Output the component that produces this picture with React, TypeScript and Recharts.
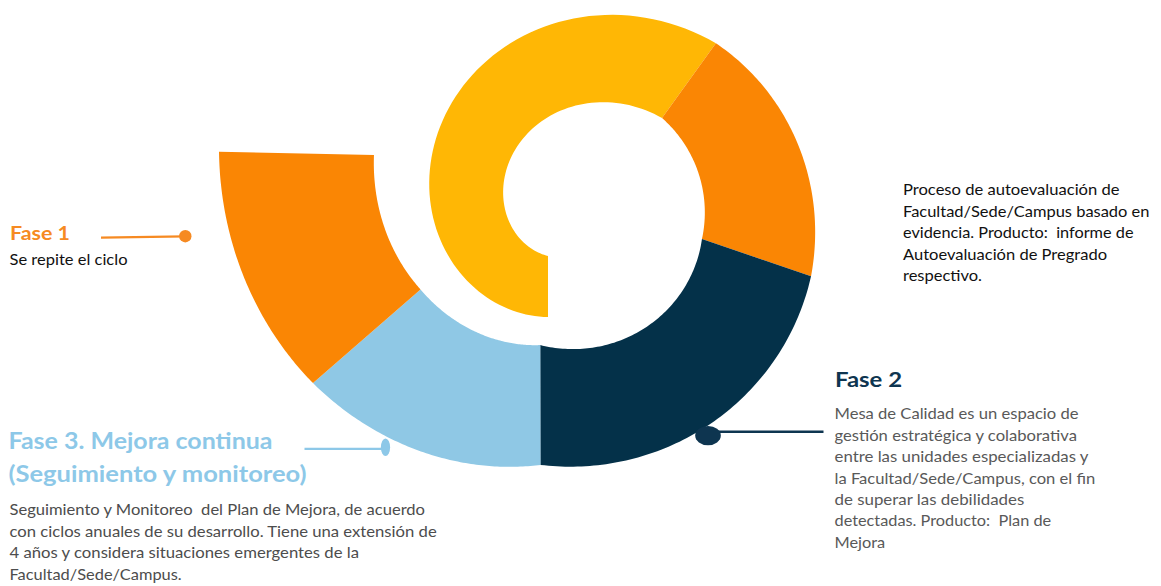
import React from "react";
import { PieChart, Pie, Cell } from "recharts";

const W = 1161;
const H = 586;

// ---- chart data: the spiral's segments and their angular extent (degrees) ----
const segmentNames = [
  "Autoevaluación",
  "Informe de Autoevaluación",
  "Fase 2 · Plan de Mejora",
  "Fase 3 · Mejora continua",
  "Fase 1 · Se repite el ciclo",
];
const segmentSpans = [191.6, 63.7, 90.0, 48.4, 41.7];
const segmentColors = ["#FFB705", "#FA8604", "#043149", "#8FC8E5", "#FA8604"];

// ---- text ----
const fase1Title = "Fase 1";
const fase1Lines = ["Se repite el ciclo"];
const fase3Title = ["Fase 3. Mejora continua", "(Seguimiento y monitoreo)"];
const fase3Lines = [
  "Seguimiento y Monitoreo  del Plan de Mejora, de acuerdo",
  "con ciclos anuales de su desarrollo. Tiene una extensión de",
  "4 años y considera situaciones emergentes de la",
  "Facultad/Sede/Campus.",
];
const autoevalLines = [
  "Proceso de autoevaluación de",
  "Facultad/Sede/Campus basado en",
  "evidencia. Producto:  informe de",
  "Autoevaluación de Pregrado",
  "respectivo.",
];
const fase2Title = "Fase 2";
const fase2Lines = [
  "Mesa de Calidad es un espacio de",
  "gestión estratégica y colaborativa",
  "entre las unidades especializadas y",
  "la Facultad/Sede/Campus, con el fin",
  "de superar las debilidades",
  "detectadas. Producto:  Plan de",
  "Mejora",
];

// ---- layout / style ----
const SPIRAL_CX = 580;
const SPIRAL_CY = 215;
const SPIRAL_START = 242.3;

// spiral growth per segment: radii at start/end of the segment, edge skew (deg)
const spiralGeometry = [
  { innerFrom: 52, innerTo: 127, outerFrom: 107, outerTo: 219, skewFrom: 20.6, skewTo: 1.9 },
  { innerFrom: 127, innerTo: 124.3, outerFrom: 219, outerTo: 239, skewFrom: 1.9, skewTo: -3.7 },
  { innerFrom: 124.3, innerTo: 136, outerFrom: 239, outerTo: 253, skewFrom: -3.7, skewTo: 8 },
  { innerFrom: 136, innerTo: 176, outerFrom: 253, outerTo: 315.5, skewFrom: 8, skewTo: 7.2 },
  { innerFrom: 176, innerTo: 214.6, outerFrom: 315.5, outerTo: 366.5, skewFrom: 7.2, skewTo: 6.3 },
];

const FONT = 'Lato, "Open Sans", "DejaVu Sans", sans-serif';

const RAD = Math.PI / 180;

function SpiralSector(props: any) {
  const { cx, cy, startAngle, endAngle, fill } = props;
  const name = props?.payload?.name ?? props?.name;
  const idx = segmentNames.indexOf(name);
  const g = spiralGeometry[idx < 0 ? 0 : idx];
  const o0 = startAngle + g.skewFrom / 2;
  const o1 = endAngle + g.skewTo / 2;
  const i0 = startAngle - g.skewFrom / 2;
  const i1 = endAngle - g.skewTo / 2;
  const steps = 90;
  const pt = (deg: number, r: number) =>
    `${(cx + r * Math.cos(deg * RAD)).toFixed(2)},${(cy - r * Math.sin(deg * RAD)).toFixed(2)}`;
  const parts: string[] = [];
  for (let k = 0; k <= steps; k++) {
    const t = k / steps;
    const a = o0 + (o1 - o0) * t;
    const r = g.outerFrom + (g.outerTo - g.outerFrom) * t;
    parts.push((k === 0 ? "M" : "L") + pt(a, r));
  }
  for (let k = steps; k >= 0; k--) {
    const t = k / steps;
    const a = i0 + (i1 - i0) * t;
    const r = g.innerFrom + (g.innerTo - g.innerFrom) * t;
    parts.push("L" + pt(a, r));
  }
  parts.push("Z");
  return <path d={parts.join(" ")} fill={fill} stroke="none" />;
}

const firstTurn = [{ name: segmentNames[0], value: segmentSpans[0] }];
const secondTurn = segmentNames.slice(1).map((name, i) => ({ name, value: segmentSpans[i + 1] }));
const secondTurnSpan = segmentSpans.slice(1).reduce((a, b) => a + b, 0);

type BlockProps = {
  x: number;
  y: number;
  dy: number;
  lines: string[];
  widths: number[];
  size: number;
  weight?: number;
  color: string;
};

function TextBlock({ x, y, dy, lines, widths, size, weight = 400, color }: BlockProps) {
  return (
    <g>
      {lines.map((line, i) => (
        <text
          key={i}
          x={x}
          y={y + i * dy}
          fontFamily={FONT}
          fontSize={size}
          fontWeight={weight}
          fill={color}
          textLength={widths[i]}
          lengthAdjust="spacingAndGlyphs"
          style={{ whiteSpace: "pre" }}
        >
          {line}
        </text>
      ))}
    </g>
  );
}

export default function App() {
  return (
    <div style={{ position: "absolute", left: 0, top: 0, width: W, height: H, background: "#fff" }}>
      <PieChart width={W} height={H} margin={{ top: 0, right: 0, bottom: 0, left: 0 }}>
        <Pie
          data={firstTurn}
          dataKey="value"
          nameKey="name"
          cx={SPIRAL_CX}
          cy={SPIRAL_CY}
          innerRadius={90}
          outerRadius={165}
          startAngle={SPIRAL_START}
          endAngle={SPIRAL_START - segmentSpans[0]}
          stroke="none"
          isAnimationActive={false}
          shape={SpiralSector}
        >
          <Cell fill={segmentColors[0]} />
        </Pie>
        <Pie
          data={secondTurn}
          dataKey="value"
          nameKey="name"
          cx={SPIRAL_CX}
          cy={SPIRAL_CY}
          innerRadius={150}
          outerRadius={280}
          startAngle={SPIRAL_START - segmentSpans[0]}
          endAngle={SPIRAL_START - segmentSpans[0] - secondTurnSpan}
          stroke="none"
          isAnimationActive={false}
          shape={SpiralSector}
        >
          {secondTurn.map((d, i) => (
            <Cell key={d.name} fill={segmentColors[i + 1]} />
          ))}
        </Pie>
      </PieChart>
      <svg
        width={W}
        height={H}
        style={{ position: "absolute", left: 0, top: 0, pointerEvents: "none" }}
      >
        {/* Fase 1 */}
        <TextBlock x={10} y={240} dy={0} lines={[fase1Title]} widths={[60]} size={19} weight={700} color="#F68A22" />
        <TextBlock x={9.5} y={264.5} dy={0} lines={fase1Lines} widths={[118]} size={15} color="#111111" />
        <line x1={101} y1={237.6} x2={185} y2={236.3} stroke="#F68A22" strokeWidth={2.2} />
        <circle cx={185.3} cy={236.2} r={6.2} fill="#F68A22" />

        {/* Fase 3 */}
        <TextBlock x={8.5} y={448.5} dy={33} lines={fase3Title} widths={[264, 298]} size={23} weight={700} color="#8DC8E8" />
        <line x1={304.5} y1={448.8} x2={383} y2={448.8} stroke="#8DC8E8" strokeWidth={2.2} />
        <ellipse cx={385.5} cy={447.2} rx={4.6} ry={8.8} fill="#8DC8E8" />
        <TextBlock
          x={9.5}
          y={515}
          dy={21.5}
          lines={fase3Lines}
          widths={[415.5, 427.2, 349.5, 172.2]}
          size={15}
          color="#4D4D4D"
        />

        {/* Autoevaluación */}
        <TextBlock
          x={903}
          y={195}
          dy={21.5}
          lines={autoevalLines}
          widths={[216.5, 246.5, 230.5, 204, 79]}
          size={15}
          color="#111111"
        />

        {/* Fase 2 */}
        <TextBlock x={835} y={386.7} dy={0} lines={[fase2Title]} widths={[67]} size={21} weight={700} color="#0E3550" />
        <TextBlock
          x={834.5}
          y={419.3}
          dy={21.4}
          lines={fase2Lines}
          widths={[244, 242.4, 254, 260.7, 189.7, 216.7, 50.7]}
          size={15}
          color="#595959"
        />
        <line x1={708} y1={431.8} x2={823.5} y2={431.8} stroke="#0E3550" strokeWidth={2.4} />
        <ellipse cx={708} cy={435.6} rx={12.8} ry={9.6} fill="#0E3550" />
      </svg>
    </div>
  );
}
